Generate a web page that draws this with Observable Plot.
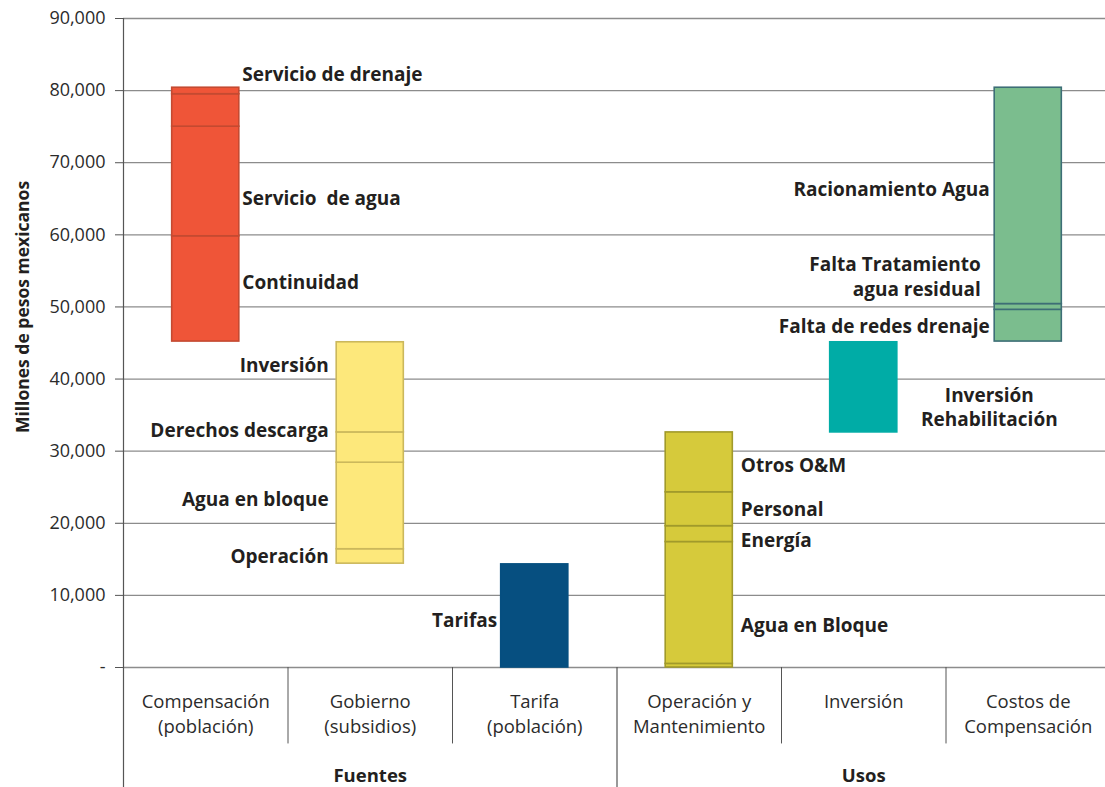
<!DOCTYPE html>
<html><head><meta charset="utf-8">
<script src="https://cdn.jsdelivr.net/npm/d3@7"></script>
<script src="https://cdn.jsdelivr.net/npm/@observablehq/plot@0.6"></script>
<style>
html,body{margin:0;padding:0;background:#fff;}
#chart svg{display:block;}
</style></head><body><div id="chart"></div>
<script>
// ---- data ----
const categories = ["Compensación\n(población)", "Gobierno\n(subsidios)", "Tarifa\n(población)", "Operación y\nMantenimiento", "Inversión", "Costos de\nCompensación"];
const groups = ["Fuentes", "Usos"];
const groupCenters = [1, 4];
// stacked segment boundaries for each bar (millones de pesos)
const compensacionBreaks = [45200, 59800, 75000, 79500, 80400];
const gobiernoBreaks = [14400, 16400, 28400, 32600, 45100];
const tarifaBreaks = [0, 14300];
const operacionBreaks = [0, 500, 17400, 19600, 24300, 32600];
const inversionBreaks = [32600, 45100];
const costosBreaks = [45200, 49600, 50400, 80400];
const yTicks = [0, 10000, 20000, 30000, 40000, 50000, 60000, 70000, 80000, 90000];
// component labels: bar index, text, value where the label sits
const labelsCompensacion = [
  {bar: 0, text: "Servicio de drenaje", v: 82200},
  {bar: 0, text: "Servicio  de agua", v: 65000},
  {bar: 0, text: "Continuidad", v: 53300}
];
const labelsOperacion = [
  {bar: 3, text: "Otros O&M", v: 28000},
  {bar: 3, text: "Personal", v: 21900},
  {bar: 3, text: "Energía", v: 17600},
  {bar: 3, text: "Agua en Bloque", v: 5700}
];
const labelsGobierno = [
  {bar: 1, text: "Inversión", v: 41800},
  {bar: 1, text: "Derechos descarga", v: 32800},
  {bar: 1, text: "Agua en bloque", v: 23200},
  {bar: 1, text: "Operación", v: 15400}
];
const labelsTarifa = [
  {bar: 2, text: "Tarifas", v: 6500}
];
const labelsCostos = [
  {bar: 5, text: "Racionamiento Agua", v: 66250},
  {bar: 5, text: "Falta de redes drenaje", v: 47200}
];
const labelsCostosFar = [
  {bar: 5, text: "Falta Tratamiento\nagua residual", v: 54300}
];
const labelsInversion = [
  {bar: 4, text: "Inversión\nRehabilitación", v: 36250}
];
const fills = ["#ef5538", "#fde87b", "#064f80", "#d6ca3b", "#00aca6", "#7bbd8e"];
const strokes = ["#c44a31", "#cbb85c", "#064f80", "#a19a2b", "#00aca6", "#3d6e76"];

// ---- build segments ----
const allBreaks = [compensacionBreaks, gobiernoBreaks, tarifaBreaks, operacionBreaks, inversionBreaks, costosBreaks];
const segments = [];
allBreaks.forEach((b, i) => {
  for (let k = 0; k < b.length - 1; k++) segments.push({i, y1: b[k], y2: b[k + 1]});
});
const half = 0.204;
const bottomShort = -10600, bottomLong = -16700;

const font = "'Open Sans', 'DejaVu Sans', sans-serif";
const ink = "#231f20";
const lab = {fontSize: 19, fontWeight: "bold", fill: ink};

const chart = Plot.plot({
  width: 1105,
  height: 787,
  marginLeft: 123,
  marginRight: 0,
  marginTop: 18,
  marginBottom: 120,
  style: {fontFamily: font, color: ink, background: "#fff", fontSize: "18px"},
  x: {type: "linear", domain: [-0.5, 5.5], range: [123, 1110], axis: null},
  y: {domain: [0, 90000], range: [667, 18], axis: null},
  color: {type: "identity"},
  marks: [
    Plot.ruleY(yTicks, {stroke: "#8c8c8c", strokeWidth: 1.3}),
    Plot.rectY(segments, {
      x1: d => d.i - half, x2: d => d.i + half, y1: "y1", y2: "y2",
      fill: d => fills[d.i], stroke: d => strokes[d.i], strokeWidth: 1.6
    }),
    Plot.axisY({
      ticks: yTicks, tickSize: 8, tickPadding: 10, fontSize: 18, label: null,
      stroke: "#555", fill: "#2b2b2b",
      tickFormat: d => d === 0 ? "-" : d3.format(",")(d)
    }),
    // axis and separator lines
    Plot.ruleX([{x: -0.5, y1: 90000, y2: bottomLong}, {x: 2.5, y1: 0, y2: bottomLong}],
      {x: "x", y1: "y1", y2: "y2", stroke: "#555", strokeWidth: 1.2}),
    Plot.ruleX([0.5, 1.5, 3.5, 4.5].map(x => ({x, y1: 0, y2: bottomShort})),
      {x: "x", y1: "y1", y2: "y2", stroke: "#555", strokeWidth: 1}),
    // category labels
    Plot.text(categories, {
      x: (d, i) => i, y: -3100, text: d => d, lineAnchor: "top", lineHeight: 1.35,
      fontSize: 18.5, fill: "#2b2b2b"
    }),
    Plot.text(groups, {
      x: (d, i) => groupCenters[i], y: -15000, text: d => d,
      fontSize: 18.5, fontWeight: "bold", fill: ink
    }),
    // component labels
    Plot.text(labelsCompensacion, {x: d => d.bar + half, y: "v", text: "text", textAnchor: "start", dx: 3, ...lab}),
    Plot.text(labelsOperacion, {x: d => d.bar + half, y: "v", text: "text", textAnchor: "start", dx: 8, ...lab}),
    Plot.text(labelsGobierno, {x: d => d.bar - half, y: "v", text: "text", textAnchor: "end", dx: -8, ...lab}),
    Plot.text(labelsTarifa, {x: d => d.bar - half, y: "v", text: "text", textAnchor: "end", dx: -4, ...lab}),
    Plot.text(labelsCostos, {x: d => d.bar - half, y: "v", text: "text", textAnchor: "end", dx: -5, ...lab}),
    Plot.text(labelsCostosFar, {x: d => d.bar - half, y: "v", text: "text", textAnchor: "end", dx: -14, lineHeight: 1.3, ...lab}),
    Plot.text(labelsInversion, {x: d => d.bar + half, y: "v", text: "text", textAnchor: "middle", dx: 92, lineHeight: 1.27, ...lab}),
    // y axis title
    Plot.text(["Millones de pesos mexicanos"], {
      frameAnchor: "left", textAnchor: "middle", dx: -100, dy: -36, rotate: -90, text: d => d,
      fontSize: 17.5, fontWeight: "bold", fill: ink
    })
  ]
});
document.getElementById("chart").appendChild(chart);
</script>
</body></html>
